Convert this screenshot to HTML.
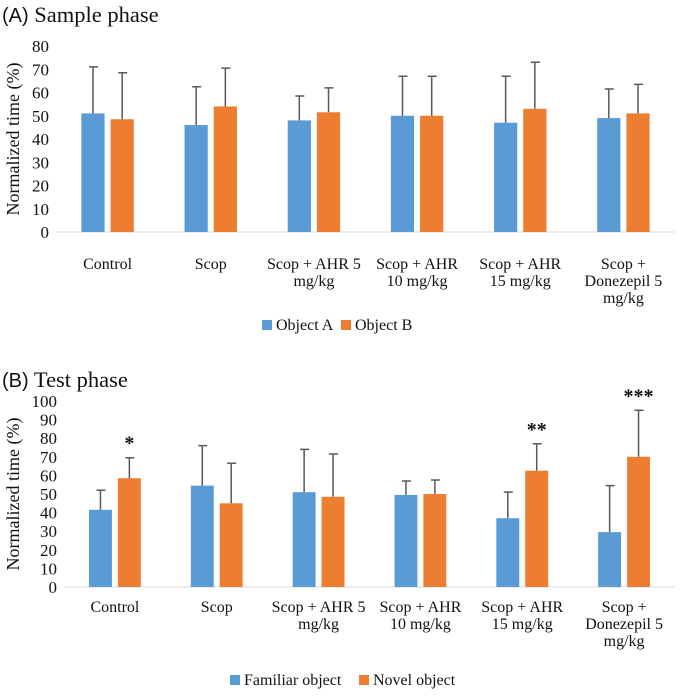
<!DOCTYPE html>
<html><head><meta charset="utf-8"><style>
body{margin:0;background:#fff;}
svg text{font-family:"Liberation Serif",serif;fill:#111;}
</style></head><body>
<svg id="chart" width="683" height="691">
<text x="2" y="22" font-size="22.5"><tspan font-family="Liberation Sans" font-size="20">(A)</tspan> Sample phase</text>
<text x="2" y="387" font-size="22.5"><tspan font-family="Liberation Sans" font-size="20">(B)</tspan>  Test phase</text>
<g id="pa"></g><g id="pb"></g>
</svg>
<script>
const categories=[["Control"],["Scop"],["Scop + AHR 5","mg/kg"],["Scop + AHR","10 mg/kg"],["Scop + AHR","15 mg/kg"],["Scop +","Donezepil 5","mg/kg"]];
const aBlue=[51,46,48,50,47,49];
const aOrange=[48.5,54,51.5,50,53,51];
const aBlueErr=[20,16.5,10.5,17,20,12.5];
const aOrangeErr=[20,16.5,10.5,17,20,12.5];
const bBlue=[41.5,54.5,51,49.5,37,29.5];
const bOrange=[58.5,45,48.5,50,62.5,70];
const bBlueErr=[10.5,21.5,23,7.5,14,25];
const bOrangeErr=[11,21.5,23,7.5,14.5,25];
const bStars=["*","","","","**","***"];
const aTicks=[0,10,20,30,40,50,60,70,80];
const bTicks=[0,10,20,30,40,50,60,70,80,90,100];
const NS="http://www.w3.org/2000/svg";
function el(p,t,a,txt){const e=document.createElementNS(NS,t);for(const k in a)e.setAttribute(k,a[k]);if(txt!==undefined)e.textContent=txt;p.appendChild(e);return e;}
function panel(g,o){
 const {x0,x1,y0,ymaxPx,ymax,ticks,blue,orange,be,oe,stars,legend,labY,legY,name}=o;
 const y=v=>y0-(v/ymax)*(y0-ymaxPx);
 const gw=(x1-x0)/categories.length;
 const bw=gw*0.225;
 ticks.forEach(t=>{const e=el(g,'text',{x:x0-7,y:y(t)+6,'font-size':17,'text-anchor':'end'},t);
 });
 const yt=el(g,'text',{x:0,y:0,'font-size':18,'text-anchor':'middle',transform:`translate(19,${(y0+ymaxPx)/2}) rotate(-90)`},'Normalized time (%)');
 
 const ax=el(g,'line',{x1:x0,x2:x1,y1:y0,y2:y0,stroke:'#d9d9d9','stroke-width':1});
 
 categories.forEach((c,i)=>{
  const cx=x0+gw*(i+0.5);
  [[blue[i],be[i],'#5b9bd5',cx-bw-3,'blue'],[orange[i],oe[i],'#ed7d31',cx+3,'orange']].forEach(([v,er,col,bx,s])=>{
   const r=el(g,'rect',{x:bx,y:y(v),width:bw,height:y0-y(v),fill:col});
   
   const mx=bx+bw/2;
   const l=el(g,'path',{d:`M${mx},${y(v)}V${y(v+er)}M${mx-4},${y(v+er)}H${mx+5}`,stroke:'#595959','stroke-width':1.5,fill:'none'});
   
  });
  if(stars&&stars[i]){const s=el(g,'text',{x:cx+3+bw/2,y:y(orange[i]+oe[i])-8,'font-size':20,'text-anchor':'middle','font-weight':'bold'},stars[i]);
   }
  c.forEach((ln,k)=>{const t=el(g,'text',{x:cx,y:labY+k*17,'font-size':16,'text-anchor':'middle'},ln);
   });
 });
 let lx=legend[2];
 legend.slice(0,2).forEach((lab,k)=>{
  const r=el(g,'rect',{x:lx,y:legY-10,width:10,height:10,fill:k?'#ed7d31':'#5b9bd5'});
  
  const t=el(g,'text',{x:lx+14,y:legY,'font-size':16},lab);
  
  lx+=legend[3];
 });
}
panel(document.getElementById('pa'),{x0:56,x1:675,y0:232,ymaxPx:46,ymax:80,ticks:aTicks,blue:aBlue,orange:aOrange,be:aBlueErr,oe:aOrangeErr,stars:null,legend:['Object A','Object B',262,79],labY:269,legY:330,name:'sample'});
panel(document.getElementById('pb'),{x0:64,x1:675,y0:587,ymaxPx:401,ymax:100,ticks:bTicks,blue:bBlue,orange:bOrange,be:bBlueErr,oe:bOrangeErr,stars:bStars,legend:['Familiar object','Novel object',230,129],labY:612,legY:685,name:'test'});
</script>
</body></html>
